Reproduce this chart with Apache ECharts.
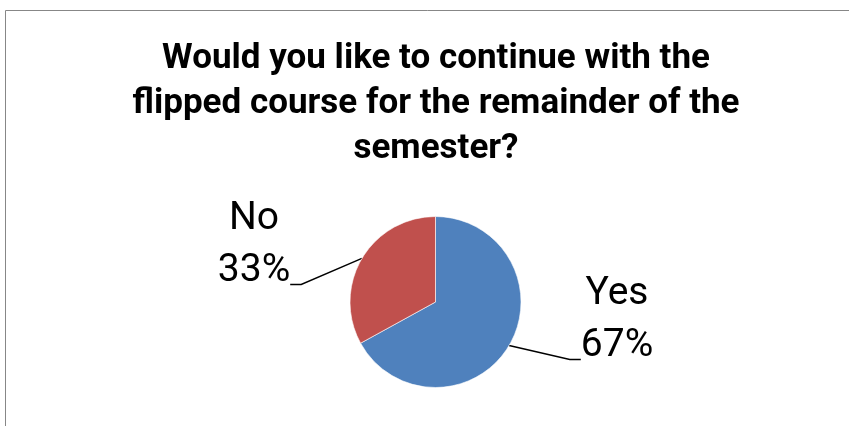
<!DOCTYPE html>
<html>
<head>
<meta charset="utf-8">
<script src="https://cdn.jsdelivr.net/npm/echarts@6/dist/echarts.min.js"></script>
<style>
html,body{margin:0;padding:0;background:#fff;}
#chart{width:849px;height:426px;}
</style>
</head>
<body>
<div id="chart"></div>
<script>
var titleText = 'Would you like to continue with the\nflipped course for the remainder of the\nsemester?';
var categories = ['Yes', 'No'];
var values = [67, 33];
var colors = ['#4F81BD', '#C0504D'];

var chart = echarts.init(document.getElementById('chart'), null, {renderer: 'canvas'});
var data = categories.map(function (c, i) {
  return {name: c, value: values[i], itemStyle: {color: colors[i]}};
});
var labelPos = {
  Yes: {x: 617, y: 268},
  No: {x: 254, y: 193}
};
chart.setOption({
  animation: false,
  backgroundColor: '#fff',
  graphic: [{
    type: 'rect',
    shape: {x: 5.5, y: 10.5, width: 900, height: 500},
    style: {fill: 'none', stroke: '#878787', lineWidth: 1},
    z: -1
  }],
  title: {
    text: titleText,
    left: 431,
    top: 32,
    textAlign: 'center',
    textStyle: {
      fontFamily: 'Roboto',
      fontWeight: 'bold',
      fontSize: 35,
      lineHeight: 45,
      color: '#000'
    }
  },
  series: [{
    type: 'pie',
    center: [435.5, 302],
    radius: 85.5,
    startAngle: 90,
    clockwise: true,
    avoidLabelOverlap: false,
    data: data,
    itemStyle: {borderColor: '#ffffff', borderWidth: 0.6},
    label: {
      show: true,
      position: 'outside',
      formatter: '{b}\n{d}%',
      fontFamily: 'Roboto',
      fontSize: 39,
      lineHeight: 52,
      color: '#000',
      align: 'center',
      padding: [0, 0, 79, 0]
    },
    labelLine: {
      show: true,
      length: 20,
      length2: 11,
      lineStyle: {color: '#000', width: 1.4}
    },
    labelLayout: function (params) {
      var name = categories[params.dataIndex];
      var p = labelPos[name];
      return {x: p.x, y: p.y, align: 'center', verticalAlign: 'top'};
    }
  }]
});
</script>
</body>
</html>
